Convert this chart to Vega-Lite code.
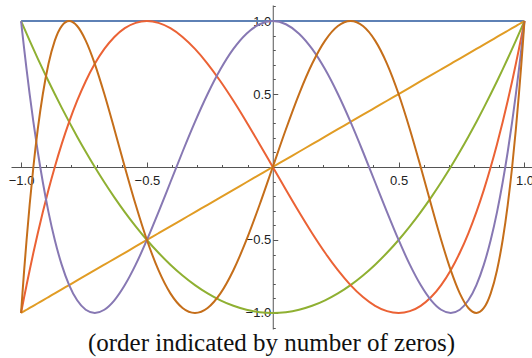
{
  "$schema": "https://vega.github.io/schema/vega-lite/v6.json",
  "width": 521,
  "height": 324,
  "autosize": {"type": "none"},
  "padding": {"left": 11, "top": 5, "right": 0, "bottom": 29},
  "background": "white",
  "title": {
    "text": "(order indicated by number of zeros)",
    "orient": "bottom",
    "anchor": "middle",
    "font": "Liberation Serif, DejaVu Serif, serif",
    "fontSize": 25,
    "fontWeight": "normal",
    "color": "#111",
    "offset": -4
  },
  "data": {
    "values": [
      {"x": 1, "T0": 1, "T1": 1, "T2": 1, "T3": 1, "T4": 1, "T5": 1},
      {"x": 0.9986, "T0": 1, "T1": 0.9986, "T2": 0.9945, "T3": 0.9877, "T4": 0.9781, "T5": 0.9659},
      {"x": 0.9945, "T0": 1, "T1": 0.9945, "T2": 0.9781, "T3": 0.9511, "T4": 0.9135, "T5": 0.866},
      {"x": 0.9877, "T0": 1, "T1": 0.9877, "T2": 0.9511, "T3": 0.891, "T4": 0.809, "T5": 0.7071},
      {"x": 0.9781, "T0": 1, "T1": 0.9781, "T2": 0.9135, "T3": 0.809, "T4": 0.6691, "T5": 0.5},
      {"x": 0.9659, "T0": 1, "T1": 0.9659, "T2": 0.866, "T3": 0.7071, "T4": 0.5, "T5": 0.2588},
      {"x": 0.9511, "T0": 1, "T1": 0.9511, "T2": 0.809, "T3": 0.5878, "T4": 0.309, "T5": 0},
      {"x": 0.9336, "T0": 1, "T1": 0.9336, "T2": 0.7431, "T3": 0.454, "T4": 0.1045, "T5": -0.2588},
      {"x": 0.9135, "T0": 1, "T1": 0.9135, "T2": 0.6691, "T3": 0.309, "T4": -0.1045, "T5": -0.5},
      {"x": 0.891, "T0": 1, "T1": 0.891, "T2": 0.5878, "T3": 0.1564, "T4": -0.309, "T5": -0.7071},
      {"x": 0.866, "T0": 1, "T1": 0.866, "T2": 0.5, "T3": 0, "T4": -0.5, "T5": -0.866},
      {"x": 0.8387, "T0": 1, "T1": 0.8387, "T2": 0.4067, "T3": -0.1564, "T4": -0.6691, "T5": -0.9659},
      {"x": 0.809, "T0": 1, "T1": 0.809, "T2": 0.309, "T3": -0.309, "T4": -0.809, "T5": -1},
      {"x": 0.7771, "T0": 1, "T1": 0.7771, "T2": 0.2079, "T3": -0.454, "T4": -0.9135, "T5": -0.9659},
      {"x": 0.7431, "T0": 1, "T1": 0.7431, "T2": 0.1045, "T3": -0.5878, "T4": -0.9781, "T5": -0.866},
      {"x": 0.7071, "T0": 1, "T1": 0.7071, "T2": 0, "T3": -0.7071, "T4": -1, "T5": -0.7071},
      {"x": 0.6691, "T0": 1, "T1": 0.6691, "T2": -0.1045, "T3": -0.809, "T4": -0.9781, "T5": -0.5},
      {"x": 0.6293, "T0": 1, "T1": 0.6293, "T2": -0.2079, "T3": -0.891, "T4": -0.9135, "T5": -0.2588},
      {"x": 0.5878, "T0": 1, "T1": 0.5878, "T2": -0.309, "T3": -0.9511, "T4": -0.809, "T5": 0},
      {"x": 0.5446, "T0": 1, "T1": 0.5446, "T2": -0.4067, "T3": -0.9877, "T4": -0.6691, "T5": 0.2588},
      {"x": 0.5, "T0": 1, "T1": 0.5, "T2": -0.5, "T3": -1, "T4": -0.5, "T5": 0.5},
      {"x": 0.454, "T0": 1, "T1": 0.454, "T2": -0.5878, "T3": -0.9877, "T4": -0.309, "T5": 0.7071},
      {"x": 0.4067, "T0": 1, "T1": 0.4067, "T2": -0.6691, "T3": -0.9511, "T4": -0.1045, "T5": 0.866},
      {"x": 0.3584, "T0": 1, "T1": 0.3584, "T2": -0.7431, "T3": -0.891, "T4": 0.1045, "T5": 0.9659},
      {"x": 0.309, "T0": 1, "T1": 0.309, "T2": -0.809, "T3": -0.809, "T4": 0.309, "T5": 1},
      {"x": 0.2588, "T0": 1, "T1": 0.2588, "T2": -0.866, "T3": -0.7071, "T4": 0.5, "T5": 0.9659},
      {"x": 0.2079, "T0": 1, "T1": 0.2079, "T2": -0.9135, "T3": -0.5878, "T4": 0.6691, "T5": 0.866},
      {"x": 0.1564, "T0": 1, "T1": 0.1564, "T2": -0.9511, "T3": -0.454, "T4": 0.809, "T5": 0.7071},
      {"x": 0.1045, "T0": 1, "T1": 0.1045, "T2": -0.9781, "T3": -0.309, "T4": 0.9135, "T5": 0.5},
      {"x": 0.0523, "T0": 1, "T1": 0.0523, "T2": -0.9945, "T3": -0.1564, "T4": 0.9781, "T5": 0.2588},
      {"x": 0, "T0": 1, "T1": 0, "T2": -1, "T3": 0, "T4": 1, "T5": 0},
      {"x": -0.0523, "T0": 1, "T1": -0.0523, "T2": -0.9945, "T3": 0.1564, "T4": 0.9781, "T5": -0.2588},
      {"x": -0.1045, "T0": 1, "T1": -0.1045, "T2": -0.9781, "T3": 0.309, "T4": 0.9135, "T5": -0.5},
      {"x": -0.1564, "T0": 1, "T1": -0.1564, "T2": -0.9511, "T3": 0.454, "T4": 0.809, "T5": -0.7071},
      {"x": -0.2079, "T0": 1, "T1": -0.2079, "T2": -0.9135, "T3": 0.5878, "T4": 0.6691, "T5": -0.866},
      {"x": -0.2588, "T0": 1, "T1": -0.2588, "T2": -0.866, "T3": 0.7071, "T4": 0.5, "T5": -0.9659},
      {"x": -0.309, "T0": 1, "T1": -0.309, "T2": -0.809, "T3": 0.809, "T4": 0.309, "T5": -1},
      {"x": -0.3584, "T0": 1, "T1": -0.3584, "T2": -0.7431, "T3": 0.891, "T4": 0.1045, "T5": -0.9659},
      {"x": -0.4067, "T0": 1, "T1": -0.4067, "T2": -0.6691, "T3": 0.9511, "T4": -0.1045, "T5": -0.866},
      {"x": -0.454, "T0": 1, "T1": -0.454, "T2": -0.5878, "T3": 0.9877, "T4": -0.309, "T5": -0.7071},
      {"x": -0.5, "T0": 1, "T1": -0.5, "T2": -0.5, "T3": 1, "T4": -0.5, "T5": -0.5},
      {"x": -0.5446, "T0": 1, "T1": -0.5446, "T2": -0.4067, "T3": 0.9877, "T4": -0.6691, "T5": -0.2588},
      {"x": -0.5878, "T0": 1, "T1": -0.5878, "T2": -0.309, "T3": 0.9511, "T4": -0.809, "T5": 0},
      {"x": -0.6293, "T0": 1, "T1": -0.6293, "T2": -0.2079, "T3": 0.891, "T4": -0.9135, "T5": 0.2588},
      {"x": -0.6691, "T0": 1, "T1": -0.6691, "T2": -0.1045, "T3": 0.809, "T4": -0.9781, "T5": 0.5},
      {"x": -0.7071, "T0": 1, "T1": -0.7071, "T2": 0, "T3": 0.7071, "T4": -1, "T5": 0.7071},
      {"x": -0.7431, "T0": 1, "T1": -0.7431, "T2": 0.1045, "T3": 0.5878, "T4": -0.9781, "T5": 0.866},
      {"x": -0.7771, "T0": 1, "T1": -0.7771, "T2": 0.2079, "T3": 0.454, "T4": -0.9135, "T5": 0.9659},
      {"x": -0.809, "T0": 1, "T1": -0.809, "T2": 0.309, "T3": 0.309, "T4": -0.809, "T5": 1},
      {"x": -0.8387, "T0": 1, "T1": -0.8387, "T2": 0.4067, "T3": 0.1564, "T4": -0.6691, "T5": 0.9659},
      {"x": -0.866, "T0": 1, "T1": -0.866, "T2": 0.5, "T3": 0, "T4": -0.5, "T5": 0.866},
      {"x": -0.891, "T0": 1, "T1": -0.891, "T2": 0.5878, "T3": -0.1564, "T4": -0.309, "T5": 0.7071},
      {"x": -0.9135, "T0": 1, "T1": -0.9135, "T2": 0.6691, "T3": -0.309, "T4": -0.1045, "T5": 0.5},
      {"x": -0.9336, "T0": 1, "T1": -0.9336, "T2": 0.7431, "T3": -0.454, "T4": 0.1045, "T5": 0.2588},
      {"x": -0.9511, "T0": 1, "T1": -0.9511, "T2": 0.809, "T3": -0.5878, "T4": 0.309, "T5": 0},
      {"x": -0.9659, "T0": 1, "T1": -0.9659, "T2": 0.866, "T3": -0.7071, "T4": 0.5, "T5": -0.2588},
      {"x": -0.9781, "T0": 1, "T1": -0.9781, "T2": 0.9135, "T3": -0.809, "T4": 0.6691, "T5": -0.5},
      {"x": -0.9877, "T0": 1, "T1": -0.9877, "T2": 0.9511, "T3": -0.891, "T4": 0.809, "T5": -0.7071},
      {"x": -0.9945, "T0": 1, "T1": -0.9945, "T2": 0.9781, "T3": -0.9511, "T4": 0.9135, "T5": -0.866},
      {"x": -0.9986, "T0": 1, "T1": -0.9986, "T2": 0.9945, "T3": -0.9877, "T4": 0.9781, "T5": -0.9659},
      {"x": -1, "T0": 1, "T1": -1, "T2": 1, "T3": -1, "T4": 1, "T5": -1}
    ]
  },
  "transform": [{"fold": ["T0", "T1", "T2", "T3", "T4", "T5"], "as": ["n", "y"]}],
  "mark": {"type": "line", "strokeWidth": 2, "interpolate": "monotone", "clip": true},
  "encoding": {
    "x": {
      "field": "x",
      "type": "quantitative",
      "scale": {"domain": [-1.04, 1.03], "nice": false, "zero": false},
      "axis": {
        "orient": "bottom",
        "offset": {"expr": "scale('y', 0) - height"},
        "values": [-1, -0.9, -0.8, -0.7, -0.6, -0.5, -0.4, -0.3, -0.2, -0.1, 0.1, 0.2, 0.3, 0.4, 0.5, 0.6, 0.7, 0.8, 0.9, 1],
        "title": null,
        "grid": false,
        "domainColor": "#555",
        "domainWidth": 1,
        "tickColor": "#555",
        "tickWidth": 1,
        "tickSize": {"condition": {"test": "abs(datum.value) == 0.5 || abs(datum.value) == 1", "value": -5}, "value": -2.5},
        "labelExpr": "abs(datum.value) == 0.5 || abs(datum.value) == 1 ? format(datum.value, '.1f') : ''",
        "labelFont": "Liberation Sans",
        "labelFontSize": 13,
        "labelColor": "#222",
        "labelPadding": 12,
        "labelOverlap": false,
        "labelFlush": false,
        "labelBound": false
      }
    },
    "y": {
      "field": "y",
      "type": "quantitative",
      "scale": {"domain": [-1.11, 1.11], "nice": false, "zero": false},
      "axis": {
        "orient": "left",
        "offset": {"expr": "-scale('x', 0)"},
        "values": [-1.1, -1, -0.9, -0.8, -0.7, -0.6, -0.5, -0.4, -0.3, -0.2, -0.1, 0.1, 0.2, 0.3, 0.4, 0.5, 0.6, 0.7, 0.8, 0.9, 1, 1.1],
        "title": null,
        "grid": false,
        "domainColor": "#555",
        "domainWidth": 1,
        "tickColor": "#555",
        "tickWidth": 1,
        "tickSize": {"condition": {"test": "abs(datum.value) == 0.5 || abs(datum.value) == 1", "value": -5}, "value": -2.5},
        "labelExpr": "abs(datum.value) == 0.5 || abs(datum.value) == 1 ? format(datum.value, '.1f') : ''",
        "labelFont": "Liberation Sans",
        "labelFontSize": 13,
        "labelColor": "#222",
        "labelPadding": 7,
        "labelOverlap": false,
        "labelFlush": false,
        "labelBound": false
      }
    },
    "color": {
      "field": "n",
      "type": "nominal",
      "scale": {
        "domain": ["T0", "T1", "T2", "T3", "T4", "T5"],
        "range": ["#5E81B5", "#E19C24", "#8FB032", "#EB6235", "#8778B3", "#C56E1A"]
      },
      "legend": null
    }
  },
  "config": {"view": {"stroke": null}}
}
